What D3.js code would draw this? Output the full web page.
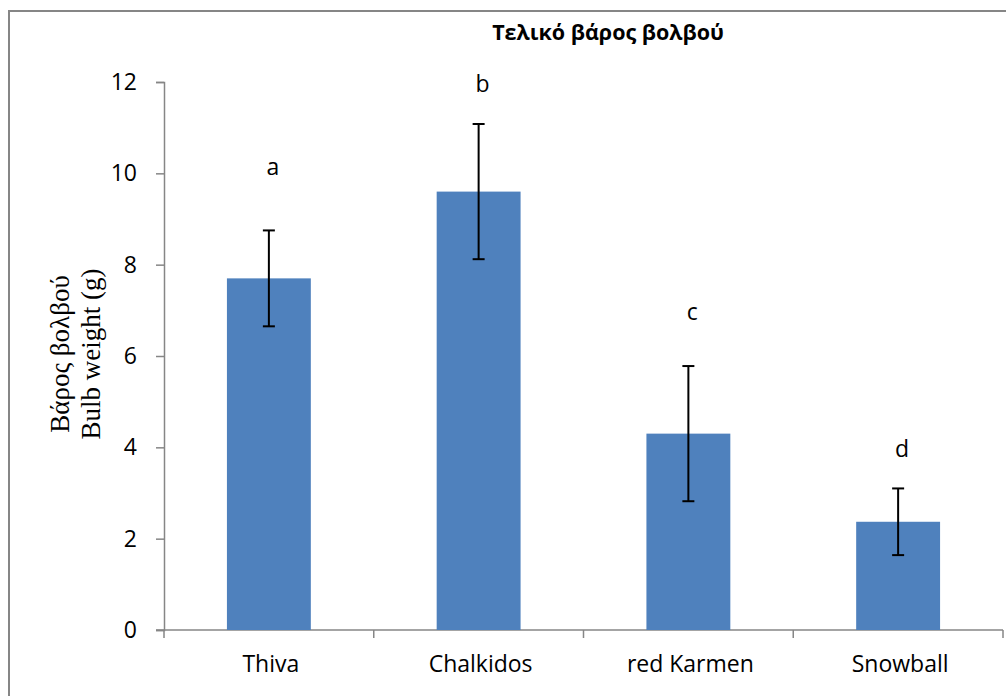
<!DOCTYPE html>
<html>
<head>
<meta charset="utf-8">
<script src="https://cdn.jsdelivr.net/npm/d3@7"></script>
<style>
  html, body { margin: 0; padding: 0; background: #fff; }
  svg { display: block; }
</style>
</head>
<body>
<svg id="chart" width="1006" height="696"></svg>
<script>
// Final bulb weight per variety (g), mean ± error, with significance letters
const categories = ["Thiva", "Chalkidos", "red Karmen", "Snowball"];
const means = [7.7, 9.6, 4.3, 2.37];
const errors = [1.05, 1.48, 1.48, 0.73];
const letters = ["a", "b", "c", "d"];
const letterAt = [10.15, 11.95, 6.97, 3.97];
const yTicks = [0, 2, 4, 6, 8, 10, 12];

const svg = d3.select("#chart");
const W = 1006, H = 696;
const margin = { left: 164, right: 3, top: 82, bottom: 66 };

// Outer chart frame (runs past the right and bottom edges)
svg.append("rect")
  .attr("x", 9).attr("y", 11)
  .attr("width", W).attr("height", H)
  .attr("fill", "#fff").attr("stroke", "#868686").attr("stroke-width", 2);

const x = d3.scaleBand()
  .domain(categories)
  .range([margin.left, W - margin.right])
  .paddingInner(0.6).paddingOuter(0.3);

const y = d3.scaleLinear()
  .domain([0, 12])
  .range([H - margin.bottom, margin.top]);

const axisColor = "#868686";
const labelFont = "'Open Sans', sans-serif";
const labelSize = 23;

// Y axis
const yAxis = svg.append("g")
  .attr("transform", `translate(${margin.left},0)`)
  .call(d3.axisLeft(y).tickValues(yTicks).tickSize(8).tickPadding(19).tickFormat(d3.format("d")));
yAxis.select(".domain").attr("stroke", axisColor).attr("stroke-width", 1.5);
yAxis.selectAll(".tick line").attr("stroke", axisColor).attr("stroke-width", 1.5);
yAxis.selectAll(".tick text")
  .attr("font-family", labelFont).attr("font-size", labelSize).attr("fill", "#000");

// X axis with ticks at the category boundaries
const xAxisG = svg.append("g")
  .attr("transform", `translate(0,${y(0)})`);
xAxisG.append("line")
  .attr("x1", margin.left - 8).attr("x2", W - margin.right)
  .attr("stroke", axisColor).attr("stroke-width", 1.5);
const boundaries = d3.range(categories.length + 1)
  .map(i => margin.left + i * x.step());
xAxisG.selectAll(".btick").data(boundaries).join("line")
  .attr("class", "btick")
  .attr("x1", d => d).attr("x2", d => d)
  .attr("y1", 0).attr("y2", 8)
  .attr("stroke", axisColor).attr("stroke-width", 1.5);
xAxisG.selectAll(".xlabel").data(categories).join("text")
  .attr("class", "xlabel")
  .attr("x", d => x(d) + x.bandwidth() / 2 + 2)
  .attr("y", 42)
  .attr("text-anchor", "middle")
  .attr("font-family", labelFont).attr("font-size", labelSize).attr("fill", "#000")
  .text(d => d);

// Bars
svg.selectAll(".bar").data(categories).join("rect")
  .attr("class", "bar")
  .attr("x", d => x(d))
  .attr("width", x.bandwidth())
  .attr("y", (d, i) => y(means[i]))
  .attr("height", (d, i) => y(0) - y(means[i]))
  .attr("fill", "#4f81bd");

// Error bars
const eb = svg.selectAll(".err").data(categories).join("g").attr("class", "err")
  .attr("transform", d => `translate(${x(d) + x.bandwidth() / 2},0)`);
eb.append("line")
  .attr("y1", (d, i) => y(means[i] + errors[i]))
  .attr("y2", (d, i) => y(means[i] - errors[i]))
  .attr("stroke", "#000").attr("stroke-width", 2);
eb.append("line")
  .attr("x1", -6).attr("x2", 6)
  .attr("y1", (d, i) => y(means[i] + errors[i]))
  .attr("y2", (d, i) => y(means[i] + errors[i]))
  .attr("stroke", "#000").attr("stroke-width", 2);
eb.append("line")
  .attr("x1", -6).attr("x2", 6)
  .attr("y1", (d, i) => y(means[i] - errors[i]))
  .attr("y2", (d, i) => y(means[i] - errors[i]))
  .attr("stroke", "#000").attr("stroke-width", 2);

// Significance letters
svg.selectAll(".letter").data(categories).join("text")
  .attr("class", "letter")
  .attr("x", d => x(d) + x.bandwidth() / 2 + 4)
  .attr("y", (d, i) => y(letterAt[i]))
  .attr("dy", "0.35em")
  .attr("text-anchor", "middle")
  .attr("font-family", labelFont).attr("font-size", labelSize).attr("fill", "#000")
  .text((d, i) => letters[i]);

// Title
svg.append("text")
  .attr("x", 608).attr("y", 40)
  .attr("text-anchor", "middle")
  .attr("font-family", labelFont).attr("font-weight", "bold").attr("font-size", 21.5)
  .attr("fill", "#000")
  .text("Τελικό βάρος βολβού");

// Y axis title, two lines
const yt = svg.append("text")
  .attr("transform", "translate(0,354) rotate(-90)")
  .attr("text-anchor", "middle")
  .attr("font-family", "'Liberation Serif', 'Times New Roman', serif")
  .attr("font-size", 27).attr("fill", "#000");
yt.append("tspan").attr("x", 0).attr("y", 69).text("Βάρος βολβού");
yt.append("tspan").attr("x", 0).attr("y", 100).text("Bulb weight (g)");
</script>
</body>
</html>
